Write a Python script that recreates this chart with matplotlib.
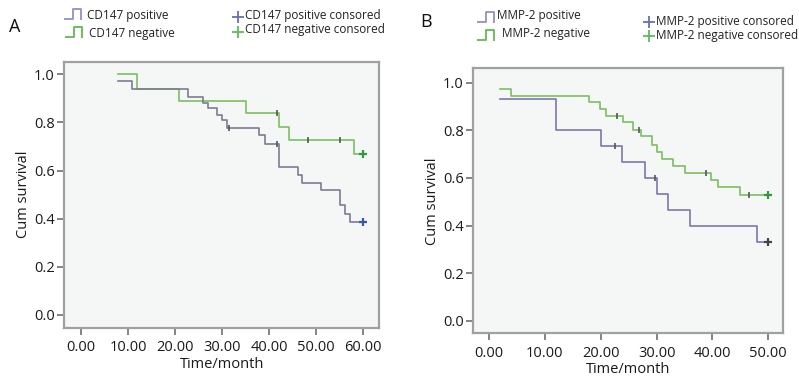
import matplotlib
matplotlib.use("Agg")
import matplotlib.pyplot as plt
from matplotlib.lines import Line2D

plt.rcParams['font.family'] = ['Open Sans', 'DejaVu Sans']

# ---------------- data ----------------
# Panel A : CD147
a_pos_times = [7.9, 10.9, 22.8, 26.0, 26.9, 28.9, 29.9, 31.0, 37.9, 39.0, 42.0, 46.2, 47.0, 51.1, 55.1, 56.2, 57.1, 60.0]
a_pos_surv = [0.97, 0.9375, 0.905, 0.88, 0.858, 0.832, 0.808, 0.775, 0.746, 0.711, 0.615, 0.58, 0.549, 0.517, 0.455, 0.42, 0.386, 0.386]
a_pos_cens_t = [31.5, 41.6, 60.0]
a_pos_cens_s = [0.775, 0.711, 0.386]

a_neg_times = [7.9, 12.0, 20.9, 35.0, 42.0, 44.1, 58.1, 60.0]
a_neg_surv = [1.0, 0.94, 0.889, 0.8375, 0.78, 0.725, 0.667, 0.667]
a_neg_cens_t = [41.6, 48.2, 55.1, 60.0]
a_neg_cens_s = [0.8375, 0.725, 0.725, 0.667]

# Panel B : MMP-2
b_pos_times = [2.0, 12.0, 20.0, 23.9, 27.9, 30.0, 32.0, 36.0, 48.0, 50.0]
b_pos_surv = [0.933, 0.80, 0.733, 0.667, 0.60, 0.533, 0.467, 0.40, 0.333, 0.333]
b_pos_cens_t = [22.5, 29.7, 50.0]
b_pos_cens_s = [0.733, 0.60, 0.333]

b_neg_times = [2.0, 3.9, 17.95, 19.86, 20.87, 24.0, 25.8, 27.3, 29.1, 30.0, 30.9, 33.0, 35.1, 39.8, 41.0, 44.9, 50.0]
b_neg_surv = [0.974, 0.945, 0.917, 0.889, 0.858, 0.833, 0.80, 0.774, 0.739, 0.709, 0.679, 0.648, 0.62, 0.59, 0.56, 0.529, 0.529]
b_neg_cens_t = [23.0, 26.8, 38.9, 46.6, 50.0]
b_neg_cens_s = [0.858, 0.80, 0.62, 0.529, 0.529]

a_xticks = [0, 10, 20, 30, 40, 50, 60]
b_xticks = [0, 10, 20, 30, 40, 50]
yticks = [0.0, 0.2, 0.4, 0.6, 0.8, 1.0]

POS_C = '#7d7b92'
NEG_C = '#7cbf62'
SPINE_C = '#a0a0a0'
BG = '#f5f6f6'

W, H = 799, 376
fig = plt.figure(figsize=(W / 100, H / 100), dpi=100)


def px_axes(l, r, t, b):
    return fig.add_axes([l / W, 1 - b / H, (r - l) / W, (b - t) / H])


def style(ax, xlim, ylim, xticks):
    ax.set_facecolor(BG)
    ax.set_xlim(*xlim)
    ax.set_ylim(*ylim)
    ax.set_xticks(xticks)
    ax.set_xticklabels([f"{v:.2f}" for v in xticks])
    ax.set_yticks(yticks)
    ax.set_yticklabels([f"{v:.1f}" for v in yticks])
    for sp in ax.spines.values():
        sp.set_color(SPINE_C)
        sp.set_linewidth(1.6)
    ax.tick_params(direction='out', length=5, width=1.2, color='#707070',
                   labelsize=10.5, labelcolor='#1a1a1a')
    ax.tick_params(axis='x', pad=4)
    ax.tick_params(axis='y', pad=2)
    ax.set_ylabel('Cum survival', fontsize=10.5, color='#1a1a1a', labelpad=2)
    ax.set_xlabel('Time/month', fontsize=10.5, color='#1a1a1a', labelpad=1)


def draw(ax, times, surv, ct, cs, color, endc, lw=1.2):
    ax.step(times, surv, where='post', color=color, lw=lw, zorder=3)
    ax.plot(ct[:-1], cs[:-1], ls='none', marker='|', ms=5, mew=1.2, color='#555555', zorder=4)
    ax.plot(ct[-1:], cs[-1:], ls='none', marker='+', ms=6, mew=1.6, color=endc, zorder=4)


# ---------------- Panel A ----------------
axA = px_axes(64.3, 379, 61.7, 327.7)
style(axA, (-3.55, 63.33), (-0.053, 1.052), a_xticks)
draw(axA, a_neg_times, a_neg_surv, a_neg_cens_t, a_neg_cens_s, NEG_C, '#2e9a3c')
draw(axA, a_pos_times, a_pos_surv, a_pos_cens_t, a_pos_cens_s, POS_C, '#3a5aa8')

# ---------------- Panel B ----------------
axB = px_axes(473.3, 783.3, 68.3, 333.3)
style(axB, (-2.81, 52.69), (-0.052, 1.06), b_xticks)
draw(axB, b_neg_times, b_neg_surv, b_neg_cens_t, b_neg_cens_s, NEG_C, '#2e9a3c')
draw(axB, b_pos_times, b_pos_surv, b_pos_cens_t, b_pos_cens_s, '#7d76b0', '#444444')

# ---------------- panel letters & legends ----------------
fig.text(9 / W, 1 - 27 / H, 'A', fontsize=13, va='center', ha='left', color='#111111')
fig.text(420 / W, 1 - 22 / H, 'B', fontsize=13, va='center', ha='left', color='#111111')


def step_icon(x0, y0, color):
    xs = [x0, x0 + 8, x0 + 8, x0 + 16, x0 + 16]
    ys = [y0, y0, y0 - 10, y0 - 10, y0]
    fig.add_artist(Line2D([x / W for x in xs], [1 - y / H for y in ys],
                          transform=fig.transFigure, color=color, lw=1.4))


def plus_icon(x, y, color):
    fig.add_artist(Line2D([x / W], [1 - y / H], transform=fig.transFigure,
                          marker='+', ms=8, mew=1.3, color=color, ls='none'))


LEG_FS = 8.5
# A legend
step_icon(65, 19, '#9a98c8')
step_icon(66, 37, '#6cbf5a')
fig.text(87 / W, 1 - 15 / H, 'CD147 positive', fontsize=LEG_FS, va='center', color='#222222')
fig.text(89 / W, 1 - 33 / H, 'CD147 negative', fontsize=LEG_FS, va='center', color='#222222')
plus_icon(238, 17, '#6670b0')
plus_icon(238, 32, '#5abf5a')
fig.text(245 / W, 1 - 16 / H, 'CD147 positive consored', fontsize=LEG_FS, va='center', color='#222222')
fig.text(245 / W, 1 - 30 / H, 'CD147 negative consored', fontsize=LEG_FS, va='center', color='#222222')

# B legend
step_icon(478, 22, '#9a98c8')
step_icon(478, 40, '#6cbf5a')
fig.text(497 / W, 1 - 16 / H, 'MMP-2 positive', fontsize=LEG_FS, va='center', color='#222222')
fig.text(502 / W, 1 - 34 / H, 'MMP-2 negative', fontsize=LEG_FS, va='center', color='#222222')
plus_icon(649, 22, '#6670b0')
plus_icon(649, 36, '#5abf5a')
fig.text(656 / W, 1 - 22 / H, 'MMP-2 positive consored', fontsize=LEG_FS, va='center', color='#222222')
fig.text(656 / W, 1 - 35 / H, 'MMP-2 negative consored', fontsize=LEG_FS, va='center', color='#222222')

fig.savefig('out.png', dpi=100, facecolor='white')
